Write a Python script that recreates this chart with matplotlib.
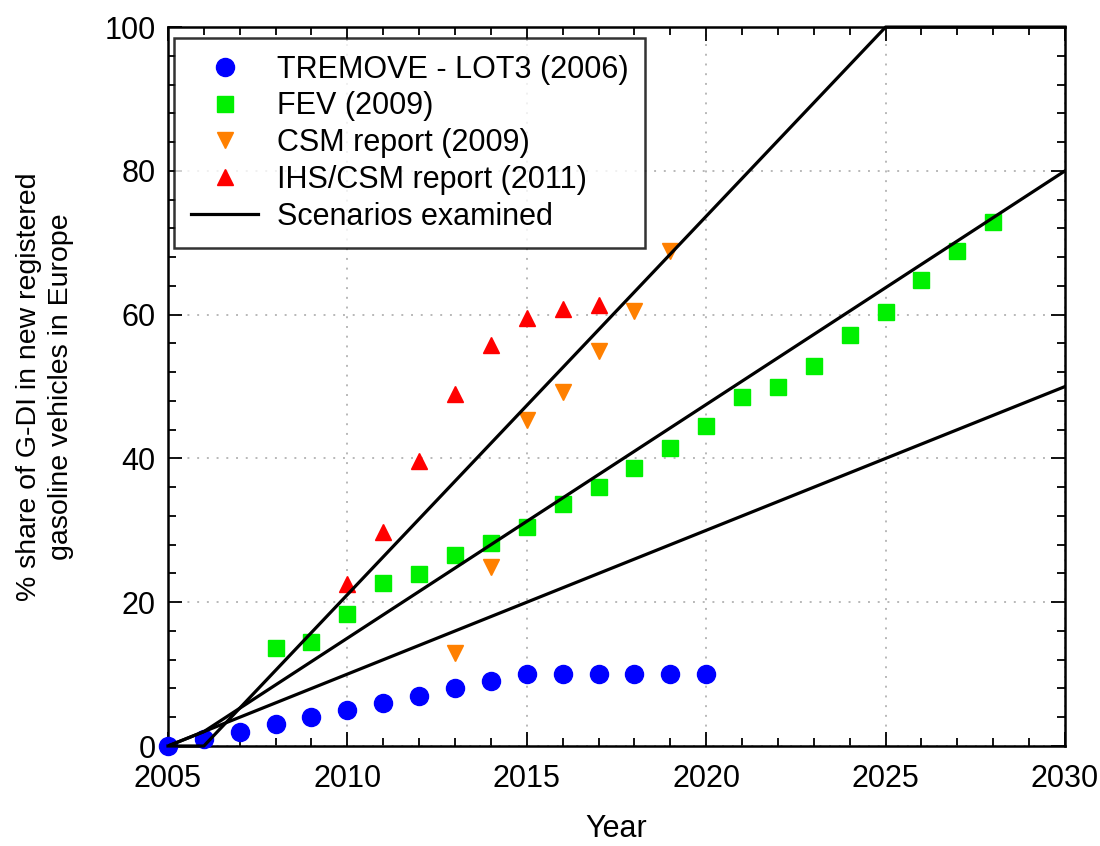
import numpy as np
import matplotlib.pyplot as plt
from matplotlib.ticker import MultipleLocator

plt.rcParams['font.family'] = ['Liberation Sans', 'DejaVu Sans']

# market share estimates (% of new gasoline registrations)
tremove_yr = [2005, 2006, 2007, 2008, 2009, 2010, 2011, 2012, 2013, 2014,
              2015, 2016, 2017, 2018, 2019, 2020]
tremove = [0, 1, 2, 3, 4, 5, 6, 7, 8, 9, 10, 10, 10, 10, 10, 10]

fev_yr = list(range(2008, 2029))
fev = [13.6, 14.5, 18.4, 22.7, 23.9, 26.5, 28.2, 30.5, 33.7, 36.0, 38.7,
       41.4, 44.5, 48.6, 50.0, 52.9, 57.2, 60.4, 64.8, 68.8, 72.9]

csm_yr = [2013, 2014, 2015, 2016, 2017, 2018, 2019]
csm = [13.0, 24.9, 45.4, 49.3, 54.9, 60.5, 68.8]

ihs_yr = [2010, 2011, 2012, 2013, 2014, 2015, 2016, 2017]
ihs = [22.5, 29.8, 39.6, 49.0, 55.8, 59.6, 60.8, 61.3]

# scenario curves
scen_yr = [2005, 2006, 2025, 2030]
scen_high = [0, 0, 100, 100]
scen_mid_yr = [2005, 2006, 2030]
scen_mid = [0, 2, 80]
scen_low_yr = [2005, 2030]
scen_low = [0, 50]

fig = plt.figure(figsize=(11, 8.46), dpi=100)
ax = fig.add_axes([0.1527, 0.1182, 0.8155, 0.8498])

ax.plot(tremove_yr, tremove, 'o', color='#0000ff', ms=13, mec='#0000ff',
        label='TREMOVE - LOT3 (2006)', zorder=3, clip_on=False)
ax.plot(fev_yr, fev, 's', color='#00f000', ms=11, mec='#00f000',
        label='FEV (2009)', zorder=3)
ax.plot(csm_yr, csm, 'v', color='#ff8000', ms=12, mec='#ff8000',
        label='CSM report (2009)', zorder=3)
ax.plot(ihs_yr, ihs, '^', color='#ff0000', ms=12, mec='#ff0000',
        label='IHS/CSM report (2011)', zorder=3)
ax.plot(scen_yr, scen_high, '-', color='black', lw=2.3,
        label='Scenarios examined', zorder=4, clip_on=False)
ax.plot(scen_mid_yr, scen_mid, '-', color='black', lw=2.3, zorder=4)
ax.plot(scen_low_yr, scen_low, '-', color='black', lw=2.3, zorder=4)

ax.set_xlim(2005, 2030)
ax.set_ylim(0, 100)
ax.xaxis.set_major_locator(MultipleLocator(5))
ax.xaxis.set_minor_locator(MultipleLocator(1))
ax.yaxis.set_major_locator(MultipleLocator(20))
ax.yaxis.set_minor_locator(MultipleLocator(4))
ax.tick_params(which='both', direction='in', top=True, right=True,
               labelsize=22, width=1.3)
ax.tick_params(which='major', length=10, pad=9)
ax.tick_params(axis='x', which='major', pad=13)
ax.tick_params(which='minor', length=6)
for s in ax.spines.values():
    s.set_linewidth(1.8)
ax.grid(True, which='major', linestyle=(0, (1, 4)), color='#b8b8b8', lw=1.4)

ax.set_xlabel('Year', fontsize=22, labelpad=14)
ax.set_ylabel('% share of G-DI in new registered\ngasoline vehicles in Europe',
              fontsize=20.5, labelpad=22, linespacing=1.3)

leg = ax.legend(loc='upper left', bbox_to_anchor=(0.007, 0.985), fontsize=22,
                frameon=True, fancybox=False, edgecolor='black',
                handlelength=2.2, handletextpad=0.6, labelspacing=0.22,
                borderpad=0.55, borderaxespad=0.0)
leg.get_frame().set_linewidth(1.8)

fig.savefig('out.png', dpi=100)
